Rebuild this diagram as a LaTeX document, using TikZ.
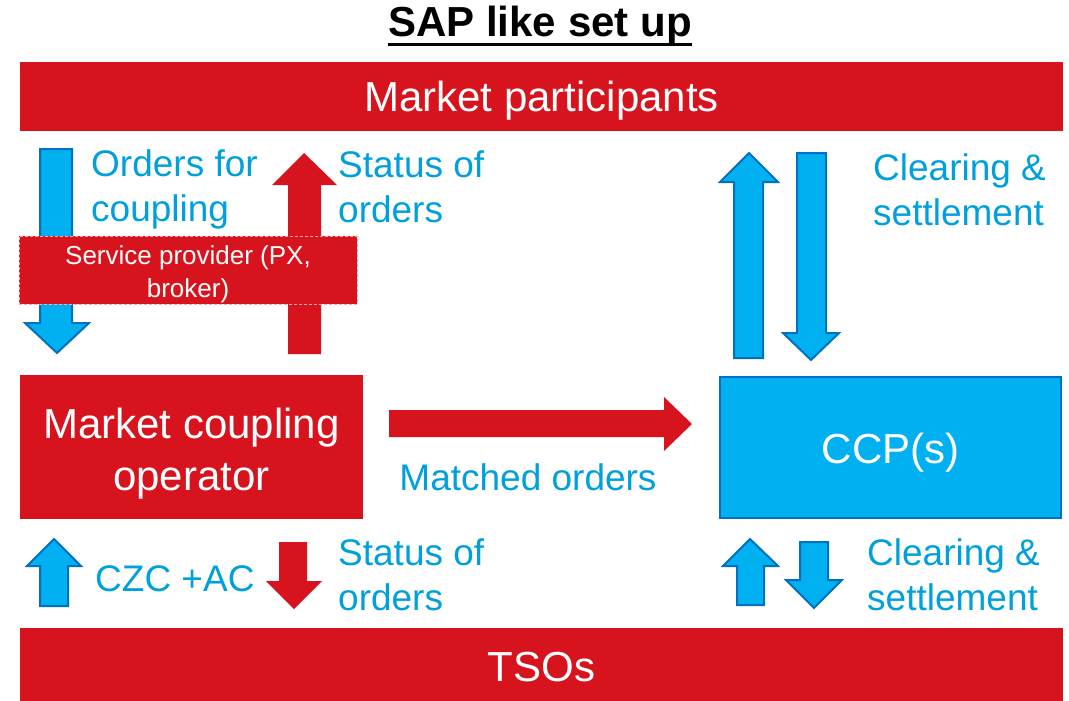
\documentclass[tikz,border=0pt]{standalone}
\usepackage{fontspec}
\setmainfont{Liberation Sans}
\definecolor{sapred}{RGB}{215,20,30}
\definecolor{ccpfill}{RGB}{0,176,240}
\definecolor{ccpline}{RGB}{0,112,192}
\definecolor{txtblue}{RGB}{0,160,220}
\definecolor{dashpink}{RGB}{245,170,175}
\tikzset{
  redbox/.style={fill=sapred, draw=none, inner sep=0pt},
  ccpbox/.style={fill=ccpfill, draw=ccpline, line width=2pt, inner sep=0pt},
  spbox/.style={fill=sapred, draw=dashpink, line width=1pt, dash pattern=on 3pt off 2pt, inner sep=0pt},
  whitetext/.style={text=white, inner sep=0pt, align=center},
  bluearrow/.style={fill=ccpfill, draw=ccpline, line width=2pt, line join=miter},
  redarrow/.style={fill=sapred, draw=none},
  bluelabel/.style={text=txtblue, inner sep=0pt, align=left, font=\fontsize{37}{45}\selectfont},
}
\begin{document}
\begin{tikzpicture}[x=1pt,y=-1pt]
\useasboundingbox (0,0) rectangle (1069,701);
% title
\node[inner sep=0pt, anchor=base, font=\fontsize{42}{50}\selectfont\bfseries] (title) at (540,37) {SAP like set up};
\draw[line width=3pt] ([yshift=-8pt]title.base west) -- ([yshift=-8pt]title.base east);
% bars
\node[redbox, minimum width=1043pt, minimum height=69pt] (mp) at (541.5,96.5) {};
\node[whitetext, font=\fontsize{42}{50}\selectfont] (mpt) at (541.5,101) {Market participants};
\node[redbox, minimum width=1043pt, minimum height=73pt] (tso) at (541.5,664.5) {};
\node[whitetext, font=\fontsize{42}{50}\selectfont] (tsot) at (541.5,667) {TSOs};
% boxes
\node[redbox, minimum width=343pt, minimum height=144pt] (mco) at (191.5,447) {};
\node[whitetext, font=\fontsize{42}{52}\selectfont] (mcot) at (191.5,453.5) {Market coupling\\operator};
\node[ccpbox, minimum width=341pt, minimum height=141pt] (ccp) at (890.5,447.5) {};
\node[whitetext, font=\fontsize{42}{50}\selectfont] (ccpt) at (890.5,453) {CCP(s)};
% left top arrows
\draw[bluearrow] (40,149) -- (72,149) -- (72,323) -- (89,323) -- (57,353) -- (25,323) -- (40,323) -- cycle;
\draw[redarrow] (288,354) -- (321,354) -- (321,185) -- (337,185) -- (304,153) -- (272,185) -- (288,185) -- cycle;
% service provider
\node[spbox, minimum width=338pt, minimum height=68pt] (sp) at (188,270) {};
\node[whitetext, font=\fontsize{26}{33}\selectfont] (spt) at (188,274) {Service provider (PX,\\broker)};
% right top arrows
\draw[bluearrow] (734,358) -- (763,358) -- (763,182) -- (778,182) -- (749,153) -- (720,182) -- (734,182) -- cycle;
\draw[bluearrow] (797,153) -- (826,153) -- (826,333) -- (839,333) -- (811,360) -- (783,333) -- (797,333) -- cycle;
% matched orders
\draw[redarrow] (389,410) -- (664,410) -- (664,397) -- (692,424) -- (664,451) -- (664,437) -- (389,437) -- cycle;
% bottom arrows
\draw[bluearrow] (40,606) -- (68,606) -- (68,566) -- (81,566) -- (54,539) -- (27,566) -- (40,566) -- cycle;
\draw[redarrow] (279,542) -- (307,542) -- (307,581) -- (322,581) -- (294,609) -- (266,581) -- (279,581) -- cycle;
\draw[bluearrow] (737,605) -- (764,605) -- (764,566) -- (778,566) -- (750,539) -- (723,566) -- (737,566) -- cycle;
\draw[bluearrow] (800,542) -- (828,542) -- (828,580) -- (842,580) -- (814,608) -- (786,580) -- (800,580) -- cycle;
% labels
\node[bluelabel, anchor=west] (l1) at (91,189) {Orders for\\coupling};
\node[bluelabel, anchor=west] (l2) at (338,187) {Status of\\orders};
\node[bluelabel, anchor=west] (l3) at (873,190) {Clearing \&\\settlement};
\node[bluelabel, align=center] (l4) at (528,477) {Matched orders};
\node[bluelabel, anchor=west] (l5) at (95,579) {CZC +AC};
\node[bluelabel, anchor=west] (l6) at (338,575) {Status of\\orders};
\node[bluelabel, anchor=west] (l7) at (867,575) {Clearing \&\\settlement};
\end{tikzpicture}
\end{document}
